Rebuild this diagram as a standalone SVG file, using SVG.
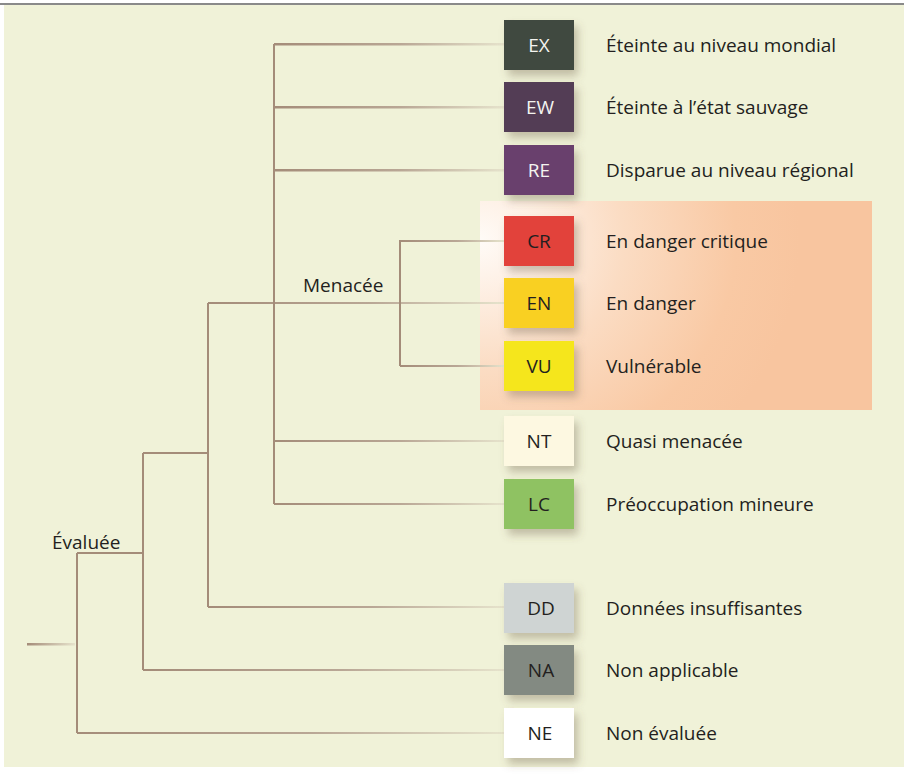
<svg xmlns="http://www.w3.org/2000/svg" width="904" height="774" viewBox="0 0 904 774">
<defs>
<linearGradient id="fade" x1="0" y1="0" x2="1" y2="0">
<stop offset="0" stop-color="#a48c79"/>
<stop offset="0.55" stop-color="#b9a795"/>
<stop offset="1" stop-color="#e6e3cc"/>
</linearGradient>
<linearGradient id="stub" x1="0" y1="0" x2="1" y2="0">
<stop offset="0" stop-color="#a48c79"/>
<stop offset="1" stop-color="#e6e3cc"/>
</linearGradient>
<radialGradient id="panel" gradientUnits="userSpaceOnUse" cx="480" cy="240" r="320" fx="480" fy="240" gradientTransform="translate(480 240) scale(1 0.9) translate(-480 -240)">
<stop offset="0" stop-color="#fffbf7"/>
<stop offset="0.12" stop-color="#fef3ea"/>
<stop offset="0.45" stop-color="#fbdcc3"/>
<stop offset="0.8" stop-color="#f9c9a4"/>
<stop offset="1" stop-color="#f8c59f"/>
</radialGradient>
<filter id="sh" x="-30%" y="-30%" width="170%" height="170%">
<feDropShadow dx="4" dy="6" stdDeviation="4.5" flood-color="#6b5a40" flood-opacity="0.35"/>
</filter>
</defs>
<style>
.bg{fill:#f0f2d8}
.v{stroke:#a48c79;stroke-width:2;fill:none}
.h{fill:url(#fade)}
.box{filter:url(#sh)}
.code{font-family:"Open Sans","Noto Sans",sans-serif;font-size:19px;text-anchor:middle}
.lt{fill:#f4f4f0}
.dk{fill:#231f20}
.lbl{font-family:"Open Sans","Noto Sans",sans-serif;font-size:19px;fill:#231f20}
</style>
<rect x="0" y="0" width="904" height="774" fill="#ffffff"/>
<rect class="bg" x="4" y="5" width="900" height="762"/>
<rect x="0" y="3" width="904" height="2" fill="#8a8a8a"/>
<rect x="480" y="201" width="392" height="209" fill="url(#panel)"/>

<g id="connectors">
<rect x="27" y="643" width="48" height="2.5" fill="url(#stub)"/>
<path class="v" d="M77 553V733"/>
<rect class="h" x="77" y="732" width="427" height="2"/>
<rect x="77" y="552" width="66" height="2" fill="#a48c79"/>
<path class="v" d="M143 453V670"/>
<rect class="h" x="143" y="669" width="361" height="2"/>
<rect x="143" y="452" width="65" height="2" fill="#a48c79"/>
<path class="v" d="M208 303V607"/>
<rect class="h" x="208" y="606" width="296" height="2"/>
<rect class="h" x="208" y="302" width="296" height="2"/>
<path class="v" d="M274 44V504"/>
<rect class="h" x="274" y="43" width="230" height="2.5"/>
<rect class="h" x="274" y="106" width="230" height="2.5"/>
<rect class="h" x="274" y="169" width="230" height="2.5"/>
<rect class="h" x="274" y="440" width="230" height="2"/>
<rect class="h" x="274" y="503" width="230" height="2"/>
<path class="v" d="M400 240V366"/>
<rect class="h" x="400" y="240" width="104" height="2"/>
<rect class="h" x="400" y="365" width="104" height="2"/>
</g>

<g id="labels-tree">
<text class="lbl" x="52" y="549">Évaluée</text>
<text class="lbl" x="303" y="292">Menacée</text>
</g>

<g id="EX"><rect class="box" x="504" y="20" width="70" height="50" fill="#3f4a40"/><text class="code lt" x="539" y="52">EX</text><text class="lbl" x="606" y="52">Éteinte au niveau mondial</text></g>
<g id="EW"><rect class="box" x="504" y="82" width="70" height="50" fill="#523e55"/><text class="code lt" x="540" y="114">EW</text><text class="lbl" x="606" y="114">Éteinte à l’état sauvage</text></g>
<g id="RE"><rect class="box" x="504" y="145" width="70" height="50" fill="#69406d"/><text class="code lt" x="539" y="177">RE</text><text class="lbl" x="606" y="177">Disparue au niveau régional</text></g>
<g id="CR"><rect class="box" x="504" y="216" width="70" height="50" fill="#e2423a"/><text class="code dk" x="539" y="248">CR</text><text class="lbl" x="606" y="248">En danger critique</text></g>
<g id="EN"><rect class="box" x="504" y="278" width="70" height="50" fill="#f9d023"/><text class="code dk" x="539" y="310">EN</text><text class="lbl" x="606" y="310">En danger</text></g>
<g id="VU"><rect class="box" x="504" y="341" width="70" height="50" fill="#f5e61e"/><text class="code dk" x="539" y="373">VU</text><text class="lbl" x="606" y="373">Vulnérable</text></g>
<g id="NT"><rect class="box" x="504" y="416" width="70" height="50" fill="#fdf8e1"/><text class="code dk" x="539" y="448">NT</text><text class="lbl" x="606" y="448">Quasi menacée</text></g>
<g id="LC"><rect class="box" x="504" y="479" width="70" height="50" fill="#8fc262"/><text class="code dk" x="539" y="511">LC</text><text class="lbl" x="606" y="511">Préoccupation mineure</text></g>
<g id="DD"><rect class="box" x="504" y="583" width="70" height="50" fill="#cfd4d3"/><text class="code dk" x="541" y="615">DD</text><text class="lbl" x="606" y="615">Données insuffisantes</text></g>
<g id="NA"><rect class="box" x="504" y="645" width="70" height="50" fill="#838a82"/><text class="code dk" x="541" y="677">NA</text><text class="lbl" x="606" y="677">Non applicable</text></g>
<g id="NE"><rect class="box" x="504" y="708" width="70" height="50" fill="#ffffff"/><text class="code dk" x="540" y="740">NE</text><text class="lbl" x="606" y="740">Non évaluée</text></g>
</svg>
